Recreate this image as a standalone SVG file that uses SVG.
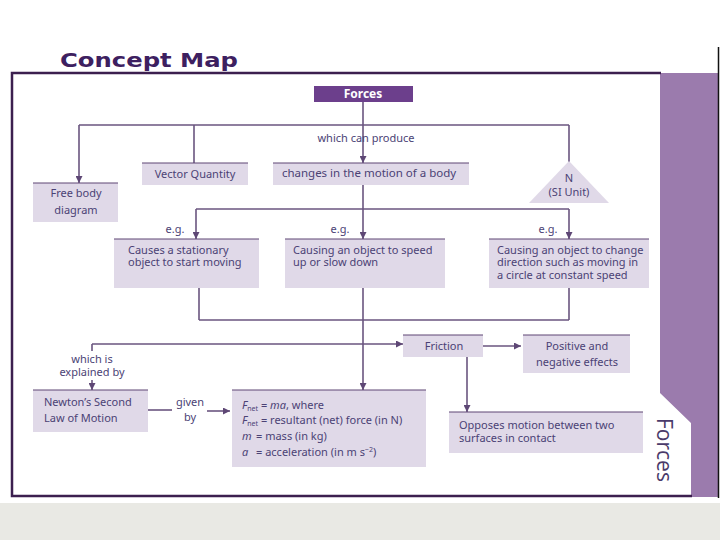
<svg xmlns="http://www.w3.org/2000/svg" width="720" height="540" viewBox="0 0 720 540">
<defs>
<marker id="ah" viewBox="0 0 10 10" refX="10" refY="5" markerWidth="7" markerHeight="7" markerUnits="userSpaceOnUse" orient="auto">
<path d="M0,0 L10,5 L0,10 z" fill="#5e4775"/>
</marker>
<style>
.t{font-family:"Noto Sans","Open Sans",sans-serif;font-size:11px;fill:#4b4275}
.c{text-anchor:middle}
.box{fill:#e0d9e8}
.top{stroke:#5e4775;stroke-width:1.2}
.ln{fill:none;stroke:#6a557f;stroke-width:1.6}
.ar{fill:none;stroke:#6a557f;stroke-width:1.6;marker-end:url(#ah)}
</style>
</defs>
<rect width="720" height="540" fill="#ffffff"/>
<rect x="0" y="503" width="720" height="37" fill="#e9e9e4"/>
<!-- frame -->
<path d="M660,73 L718,73 L718,497 L691,497 L691,423 L660,393 Z" fill="#9b7bad"/>
<line x1="718.5" y1="47" x2="718.5" y2="498" stroke="#111" stroke-width="1.5"/>
<path d="M661,73 L12,73 L12,496 L692,496" fill="none" stroke="#3c1f4f" stroke-width="2.5"/>
<text x="60" y="67" textLength="178" lengthAdjust="spacingAndGlyphs" style="font-family:'DejaVu Sans','Liberation Sans',sans-serif;font-weight:bold;font-size:19px;fill:#3d2060">Concept Map</text>
<text transform="translate(657,418) rotate(90)" style="font-family:'Open Sans','Noto Sans',sans-serif;font-size:21px;fill:#4a3a6a">Forces</text>

<g id="connectors">
<line class="ln" x1="363" y1="102" x2="363" y2="125"/>
<line class="ln" x1="79" y1="125" x2="569" y2="125"/>
<line class="ar" x1="79" y1="125" x2="79" y2="183"/>
<line class="ln" x1="194" y1="125" x2="194" y2="163"/>
<line class="ar" x1="363" y1="125" x2="363" y2="163"/>
<line class="ln" x1="569" y1="125" x2="569" y2="162"/>
<line class="ln" x1="363" y1="185" x2="363" y2="209"/>
<line class="ln" x1="196" y1="209" x2="569" y2="209"/>
<line class="ar" x1="196" y1="209" x2="196" y2="239"/>
<line class="ar" x1="363" y1="209" x2="363" y2="239"/>
<line class="ar" x1="569" y1="209" x2="569" y2="239"/>
<line class="ln" x1="199" y1="288" x2="199" y2="320"/>
<line class="ln" x1="199" y1="320" x2="569" y2="320"/>
<line class="ln" x1="569" y1="288" x2="569" y2="320"/>
<line class="ar" x1="363" y1="288" x2="363" y2="390"/>
<line class="ar" x1="92" y1="344" x2="403" y2="344"/>
<line class="ln" x1="92" y1="344" x2="92" y2="351"/>
<line class="ar" x1="92" y1="380" x2="92" y2="390"/>
<line class="ar" x1="483" y1="346" x2="521" y2="346"/>
<line class="ar" x1="467" y1="357" x2="467" y2="412"/>
<line class="ln" x1="148" y1="410" x2="172" y2="410"/>
<line class="ar" x1="207" y1="411" x2="230" y2="411"/>
<text class="t c" x="366" y="142">which can produce</text>
<text class="t c" x="175" y="233">e.g.</text>
<text class="t c" x="340" y="233">e.g.</text>
<text class="t c" x="548" y="233">e.g.</text>
<text class="t c" x="92" y="363">which is</text>
<text class="t c" x="92" y="376">explained by</text>
<text class="t c" x="190" y="406">given</text>
<text class="t c" x="190" y="421">by</text>
</g>

<g id="forces">
<rect x="314" y="86" width="99" height="16" fill="#6c3f8c"/>
<text class="c" x="363" y="98" style="font-family:'Noto Sans',sans-serif;font-size:12px;font-weight:bold;fill:#ffffff">Forces</text>
</g>
<g id="free-body">
<rect class="box" x="33" y="183" width="85" height="39"/>
<line class="top" x1="33" y1="183" x2="118" y2="183"/>
<text class="t c" x="76" y="197">Free body</text>
<text class="t c" x="76" y="214">diagram</text>
</g>
<g id="vector">
<rect class="box" x="142" y="163" width="106" height="22"/>
<line class="top" x1="142" y1="163" x2="248" y2="163"/>
<text class="t c" x="195" y="178">Vector Quantity</text>
</g>
<g id="changes">
<rect class="box" x="273" y="163" width="196" height="22"/>
<line class="top" x1="273" y1="163" x2="469" y2="163"/>
<text class="t c" x="369" y="177" style="font-size:11.5px">changes in the motion of a body</text>
</g>
<g id="unit">
<polygon points="569,161 529,203 609,203" fill="#e0d9e8"/>
<text class="t c" x="569" y="182">N</text>
<text class="t c" x="569" y="196">(SI Unit)</text>
</g>
<g id="stationary">
<rect class="box" x="114" y="239" width="145" height="49"/>
<line class="top" x1="114" y1="239" x2="259" y2="239"/>
<text class="t" x="128" y="254">Causes a stationary</text>
<text class="t" x="128" y="266">object to start moving</text>
</g>
<g id="speed">
<rect class="box" x="285" y="239" width="160" height="49"/>
<line class="top" x1="285" y1="239" x2="445" y2="239"/>
<text class="t" x="293" y="254">Causing an object to speed</text>
<text class="t" x="293" y="266">up or slow down</text>
</g>
<g id="direction">
<rect class="box" x="489" y="239" width="160" height="49"/>
<line class="top" x1="489" y1="239" x2="649" y2="239"/>
<text class="t" x="497" y="254">Causing an object to change</text>
<text class="t" x="497" y="266">direction such as moving in</text>
<text class="t" x="497" y="279">a circle at constant speed</text>
</g>
<g id="friction">
<rect class="box" x="403" y="335" width="80" height="22"/>
<line class="top" x1="403" y1="335" x2="483" y2="335"/>
<text class="t c" x="444" y="350">Friction</text>
</g>
<g id="effects">
<rect class="box" x="523" y="335" width="107" height="38"/>
<line class="top" x1="523" y1="335" x2="630" y2="335"/>
<text class="t c" x="577" y="350">Positive and</text>
<text class="t c" x="577" y="366">negative effects</text>
</g>
<g id="newton">
<rect class="box" x="33" y="390" width="115" height="42"/>
<line class="top" x1="33" y1="390" x2="148" y2="390"/>
<text class="t" x="44" y="406">Newton’s Second</text>
<text class="t" x="44" y="422">Law of Motion</text>
</g>
<g id="formula">
<rect class="box" x="232" y="390" width="194" height="77"/>
<line class="top" x1="232" y1="390" x2="426" y2="390"/>
<text class="t" x="242" y="409"><tspan font-style="italic">F</tspan><tspan font-size="7" dy="2">net</tspan><tspan dy="-2"> = </tspan><tspan font-style="italic">ma</tspan>, where</text>
<text class="t" x="242" y="424"><tspan font-style="italic">F</tspan><tspan font-size="7" dy="2">net</tspan><tspan dy="-2"> = resultant (net) force (in N)</tspan></text>
<text class="t" x="242" y="440"><tspan font-style="italic">m</tspan><tspan x="256">= mass (in kg)</tspan></text>
<text class="t" x="242" y="456"><tspan font-style="italic">a</tspan><tspan x="256">= acceleration (in m s</tspan><tspan font-size="7" dy="-4">−2</tspan><tspan dy="4">)</tspan></text>
</g>
<g id="opposes">
<rect class="box" x="449" y="412" width="194" height="41"/>
<line class="top" x1="449" y1="412" x2="643" y2="412"/>
<text class="t" x="459" y="429">Opposes motion between two</text>
<text class="t" x="459" y="442">surfaces in contact</text>
</g>
</svg>
